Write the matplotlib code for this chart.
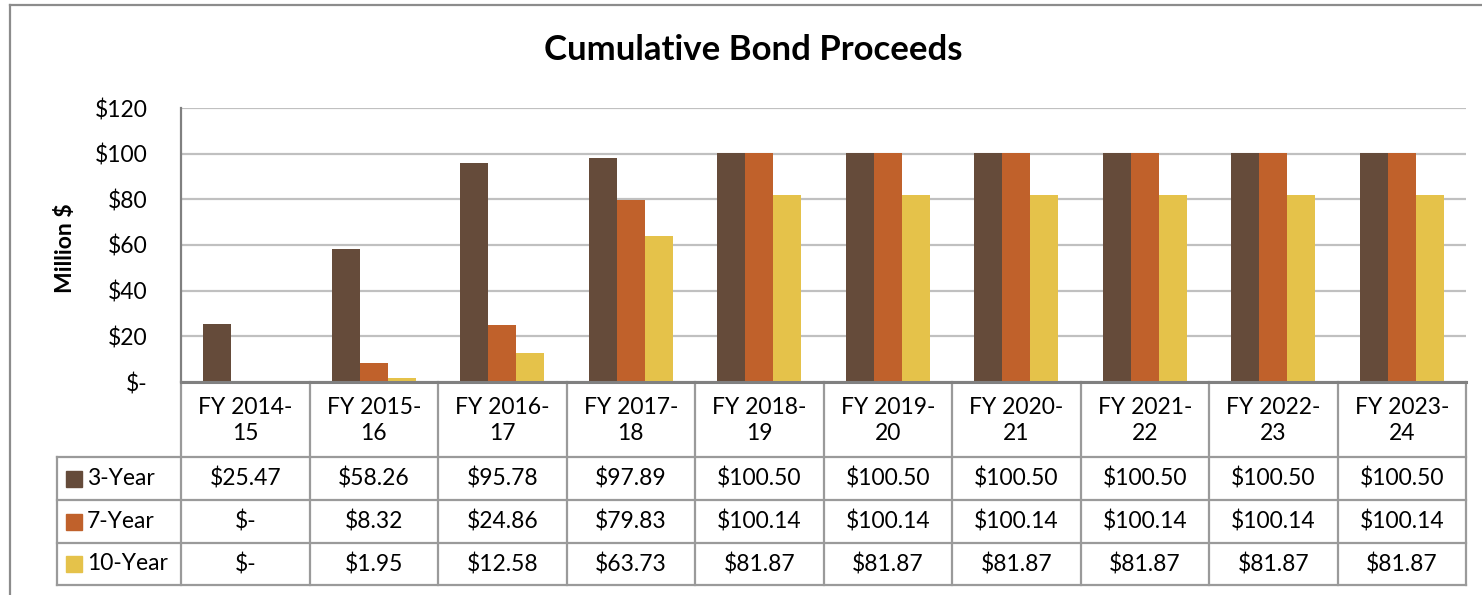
import matplotlib.pyplot as plt
from matplotlib.lines import Line2D
from matplotlib.patches import Rectangle
import numpy as np

plt.rcParams['font.family'] = ['Lato', 'DejaVu Sans']

years = ["FY 2014-\n15", "FY 2015-\n16", "FY 2016-\n17", "FY 2017-\n18", "FY 2018-\n19",
         "FY 2019-\n20", "FY 2020-\n21", "FY 2021-\n22", "FY 2022-\n23", "FY 2023-\n24"]
series = ["3-Year", "7-Year", "10-Year"]
three_year = [25.47, 58.26, 95.78, 97.89, 100.50, 100.50, 100.50, 100.50, 100.50, 100.50]
seven_year = [0, 8.32, 24.86, 79.83, 100.14, 100.14, 100.14, 100.14, 100.14, 100.14]
ten_year = [0, 1.95, 12.58, 63.73, 81.87, 81.87, 81.87, 81.87, 81.87, 81.87]
colors = ["#654B3A", "#C0612B", "#E5C24A"]
yticks = [0, 20, 40, 60, 80, 100, 120]


def money(v):
    return "$-" if v == 0 else f"${v:,.2f}"


W, H = 1482, 595
fig = plt.figure(figsize=(W / 100, H / 100), dpi=100)
fs = 16.5

x0, x1 = 181, 1466
ytop, ybot = 108, 382
ax = fig.add_axes([x0 / W, 1 - ybot / H, (x1 - x0) / W, (ybot - ytop) / H])

x = np.arange(len(years))
bw = 0.218
for i, vals in enumerate([three_year, seven_year, ten_year]):
    ax.bar(x + (i - 1) * bw, vals, bw, color=colors[i], zorder=3)

ax.set_xlim(-0.5, len(years) - 0.5)
ax.set_ylim(0, 120)
ax.set_yticks(yticks)
ax.set_yticklabels(["$-" if t == 0 else f"${t}" for t in yticks], fontsize=fs)
ax.tick_params(axis='y', length=0, pad=24)
ax.set_xticks([])
ax.yaxis.grid(True, color="#C0C0C0", lw=1.6, zorder=0)
for s in ["top", "right", "bottom"]:
    ax.spines[s].set_visible(False)
ax.spines["left"].set_color("#808080")
ax.spines["left"].set_linewidth(1.6)
ax.set_ylabel("Million $", fontsize=fs, fontweight="bold")
ax.yaxis.set_label_coords((76 - x0) / (x1 - x0), 0.49)

fig.text(753 / W, 1 - 50 / H, "Cumulative Bond Proceeds", fontsize=25,
         fontweight="bold", ha="center", va="center")

# data table below the plot
tab_bot = 585
tax = fig.add_axes([x0 / W, 1 - tab_bot / H, (x1 - x0) / W, (tab_bot - ybot) / H])
tax.set_xlim(-0.5, len(years) - 0.5)
tax.set_ylim(tab_bot, ybot)
tax.axis("off")
colw = (x1 - x0) / len(years)
left = -0.5 - (x0 - 57) / colw
row_edges = [382, 457, 500, 543, 585]
grid_c = "#9A9A9A"
for k in range(len(years) + 1):
    tax.plot([k - 0.5, k - 0.5], [row_edges[0], row_edges[-1]], color=grid_c, lw=1.6, clip_on=False)
tax.plot([left, left], [row_edges[1], row_edges[-1]], color=grid_c, lw=1.6, clip_on=False)
tax.plot([-0.5, len(years) - 0.5], [row_edges[0], row_edges[0]], color="#808080", lw=2.2, clip_on=False)
for e in row_edges[1:]:
    tax.plot([left, len(years) - 0.5], [e, e], color=grid_c, lw=1.6, clip_on=False)

for k, lab in enumerate(years):
    tax.text(k, (row_edges[0] + row_edges[1]) / 2 + 1, lab, ha="center", va="center",
             fontsize=fs, linespacing=1.3)

for r, vals in enumerate([three_year, seven_year, ten_year]):
    yc = (row_edges[r + 1] + row_edges[r + 2]) / 2
    for k, v in enumerate(vals):
        tax.text(k, yc, money(v), ha="center", va="center", fontsize=fs)
    tax.add_patch(Rectangle((left + 9 / colw, yc - 8), 16 / colw, 16, color=colors[r], clip_on=False))
    tax.text(left + 30 / colw, yc, series[r], ha="left", va="center", fontsize=fs)

# outer chart border
fig.add_artist(Line2D([10 / W, 10 / W], [1 - 5 / H, 0], color="#8C8C8C", lw=1.6))
fig.add_artist(Line2D([10 / W, 1], [1 - 5 / H, 1 - 5 / H], color="#8C8C8C", lw=1.6))

fig.savefig("out.png", dpi=100)
